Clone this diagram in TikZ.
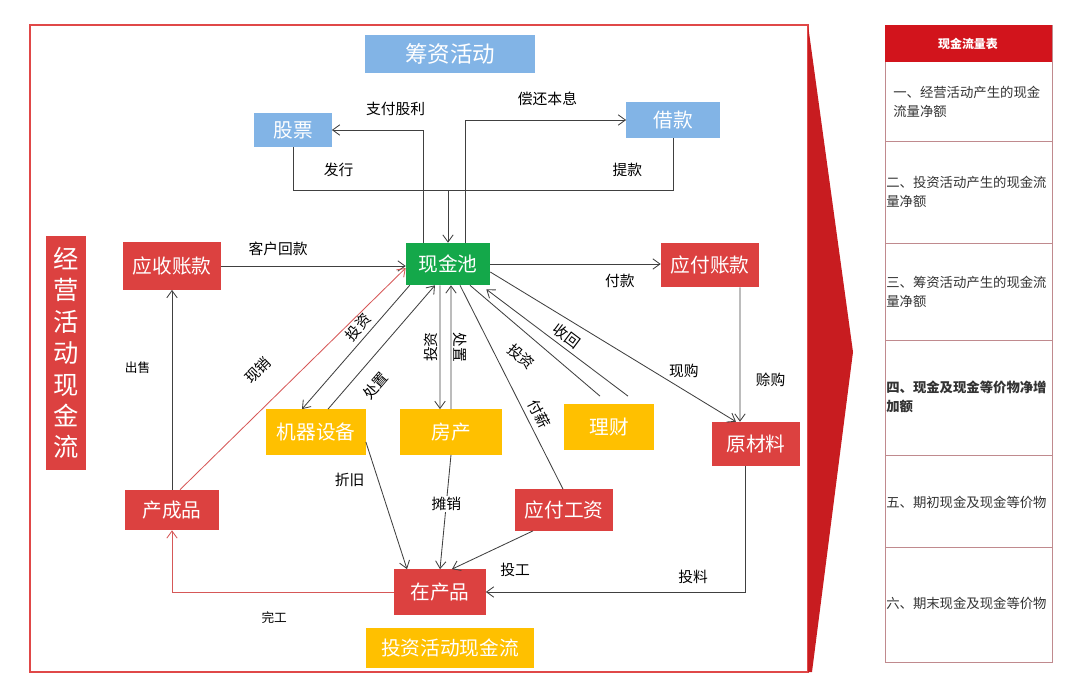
\documentclass[tikz,border=0pt]{standalone}
\usepackage{fontspec}
\setmainfont{Noto Sans CJK SC}
\usepackage{xcolor}
\usetikzlibrary{positioning,arrows.meta}
\definecolor{boxred}{HTML}{DC4140}
\definecolor{boxyellow}{HTML}{FFC000}
\definecolor{boxblue}{HTML}{82B4E6}
\definecolor{boxgreen}{HTML}{14A84A}
\definecolor{framered}{HTML}{E04848}
\definecolor{arrowred}{HTML}{C81C20}
\definecolor{flowred}{HTML}{D65858}
\definecolor{linegray}{HTML}{404040}
\definecolor{sheetred}{HTML}{D2141C}
\definecolor{sheetline}{HTML}{C08A8E}
\tikzset{
    box/.style={inner sep=0pt, text=white, font=\fontsize{14}{16}\selectfont},
    red box/.style={box, fill=boxred},
    yellow box/.style={box, fill=boxyellow},
    blue box/.style={box, fill=boxblue},
    green box/.style={box, fill=boxgreen},
    flow/.style={draw=linegray, line width=0.6pt, -{Straight Barb[length=1.8mm, width=2.6mm]}},
    plain flow/.style={draw=linegray, line width=0.6pt},
    red flow/.style={draw=flowred, line width=0.6pt, -{Straight Barb[length=1.8mm, width=2.6mm]}},
    flow label/.style={font=\fontsize{10.5}{12}\selectfont, text=black, inner sep=1pt},
    sheet text/.style={font=\fontsize{9.5}{13.5}\selectfont, text=black!80, align=left, inner sep=0pt}
}

\begin{document}
\begin{tikzpicture}[x=0.025cm, y=-0.025cm]
    \useasboundingbox (0,0) rectangle (1080,683);

    % 外框与红色箭头
    \draw[draw=framered, line width=0.9pt] (30,25) rectangle (808,672);
    \fill[arrowred] (808,25) -- (853,352) -- (812,672) -- (808,672) -- cycle;

    % 方框
    \node[blue box, minimum width=4.23cm, minimum height=0.95cm, font=\fontsize{16}{18}\selectfont] (finance) at (450,54) {筹资活动};
    \node[blue box, minimum width=1.93cm, minimum height=0.85cm] (stock) at (293,130) {股票};
    \node[blue box, minimum width=2.33cm, minimum height=0.88cm] (loan) at (673,120) {借款};
    \node[green box, minimum width=2.1cm, minimum height=1.05cm] (pool) at (448,264) {现金池};
    \node[red box, minimum width=2.43cm, minimum height=1.18cm] (receivable) at (172,266) {应收账款};
    \node[red box, minimum width=2.45cm, minimum height=1.1cm] (payable) at (710,265) {应付账款};
    \node[red box, minimum width=1cm, minimum height=5.83cm, align=center, font=\fontsize{18}{22.3}\selectfont] (operating) at (66,353) {经\\营\\活\\动\\现\\金\\流};
    \node[yellow box, minimum width=2.48cm, minimum height=1.13cm] (machine) at (316,432) {机器设备};
    \node[yellow box, minimum width=2.55cm, minimum height=1.13cm] (house) at (451,432) {房产};
    \node[yellow box, minimum width=2.25cm, minimum height=1.13cm] (wealth) at (609,427) {理财};
    \node[red box, minimum width=2.18cm, minimum height=1.1cm] (material) at (756,444) {原材料};
    \node[red box, minimum width=2.35cm, minimum height=1cm] (product) at (172,510) {产成品};
    \node[red box, minimum width=2.43cm, minimum height=1.03cm] (wage) at (564,510) {应付工资};
    \node[red box, minimum width=2.28cm, minimum height=1.13cm] (wip) at (440,592) {在产品};
    \node[yellow box, minimum width=4.2cm, minimum height=1cm] (investing) at (450,648) {投资活动现金流};

    % 筹资活动
    \draw[plain flow] (stock.south) -- ++(0,43) coordinate (join) -| (loan.south)
        node[pos=0.06, above=0.3cm, flow label] {发行}
        node[pos=0.44, above=0.3cm, flow label] {提款};
    \draw[flow] (pool.north |- join) -- (pool.north);
    \draw[flow] ([xshift=-0.625cm]pool.north) |- (stock.east) node[pos=0.65, above=0.3cm, flow label] {支付股利};
    \draw[flow] ([xshift=0.425cm]pool.north) |- (loan.west) node[pos=0.756, above=0.3cm, flow label] {偿还本息};

    % 经营活动
    \draw[flow] (receivable.east) -- (receivable.east -| pool.west) node[pos=0.31, above=0.2cm, flow label] {客户回款};
    \draw[flow] (pool.east) -- (pool.east -| payable.west) node[pos=0.76, below=0.2cm, flow label] {付款};
    \draw[flow] ([xshift=0.75cm]payable.south) -- ([xshift=-0.4cm]material.north) node[pos=0.69, right=0.35cm, flow label] {赊购};
    \draw[flow] ([yshift=-0.2cm]pool.east) -- ([xshift=-0.5cm]material.north) node[pos=0.72, above right, flow label] {现购};
    \draw[flow] (product.north) -- (receivable.south) node[pos=0.61, left=0.5cm, flow label, font=\fontsize{9}{11}\selectfont] {出售};
    \draw[red flow] ([xshift=0.2cm]product.north) -- ([yshift=-0.1cm]pool.west) node[pos=0.44, sloped, above=0.55cm, flow label] {现销};

    % 投资活动
    \draw[flow] ([xshift=0.1cm]pool.south west) -- ([xshift=-0.35cm]machine.north) node[pos=0.4, sloped, above=2pt, flow label] {投资};
    \draw[flow] ([xshift=0.3cm]machine.north) -- ([xshift=-0.325cm]pool.south) node[pos=0.3, sloped, below=0.3cm, flow label] {处置};
    \draw[flow] ([xshift=-0.2cm]pool.south) -- ([xshift=-0.275cm]house.north) node[midway, rotate=90, anchor=south, flow label] {投资};
    \draw[flow] (house.north) -- ([xshift=0.075cm]pool.south) node[midway, rotate=-90, anchor=south, flow label] {处置};
    \draw[plain flow] ([xshift=0.55cm]pool.south) -- ([xshift=-0.225cm, yshift=0.2cm]wealth.north) node[pos=0.5, sloped, below=0.3cm, flow label] {投资};
    \draw[flow] ([xshift=0.475cm, yshift=0.2cm]wealth.north) -- ([xshift=-0.1cm, yshift=-0.1cm]pool.south east) node[pos=0.48, sloped, above=2pt, flow label] {收回};
    \draw[plain flow] ([xshift=0.3cm]pool.south) -- ([xshift=-0.025cm]wage.north) node[pos=0.66, sloped, above=3pt, flow label] {付薪};

    % 生产
    \draw[flow] ([yshift=-0.25cm]machine.east) -- ([xshift=-0.825cm]wip.north) node[pos=0.3, left=0.3cm, flow label] {折旧};
    \draw[flow] (house.south) -- (wip.north) node[pos=0.43, fill=white, flow label] {摊销};
    \draw[flow] ([xshift=-0.775cm]wage.south) -- ([xshift=0.3cm]wip.north) node[pos=0.22, below=0.55cm, flow label] {投工};
    \draw[flow] ([xshift=-0.275cm]material.south) |- (wip.east) node[pos=0.6, above=0.15cm, flow label] {投料};
    \draw[red flow] (wip.west) -| (product.south) node[pos=0.27, below=0.45cm, flow label, font=\fontsize{9}{11}\selectfont] {完工};

    % 现金流量表
    \draw[draw=sheetline, line width=0.6pt] (885,25) rectangle (1052,662);
    \fill[sheetred] (885,25) rectangle (1052,62);
    \foreach \y in {141,243,340,455,547}
        \draw[draw=sheetline, line width=0.6pt] (885,\y) -- (1052,\y);
    \node[text=white, font=\bfseries\fontsize{8.5}{10}\selectfont] (sheet) at (968,44) {现金流量表};
    \node[sheet text, anchor=north west] (item1) at (893,86) {一、经营活动产生的现金\\流量净额};
    \node[sheet text, anchor=north west] (item2) at (886,176) {二、投资活动产生的现金流\\量净额};
    \node[sheet text, anchor=north west] (item3) at (886,276) {三、筹资活动产生的现金流\\量净额};
    \node[sheet text, anchor=north west, font=\bfseries\fontsize{9.5}{13.5}\selectfont] (item4) at (886,381) {四、现金及现金等价物净增\\加额};
    \node[sheet text, anchor=west] (item5) at (886,502) {五、期初现金及现金等价物};
    \node[sheet text, anchor=west] (item6) at (886,603) {六、期末现金及现金等价物};
\end{tikzpicture}
\end{document}
